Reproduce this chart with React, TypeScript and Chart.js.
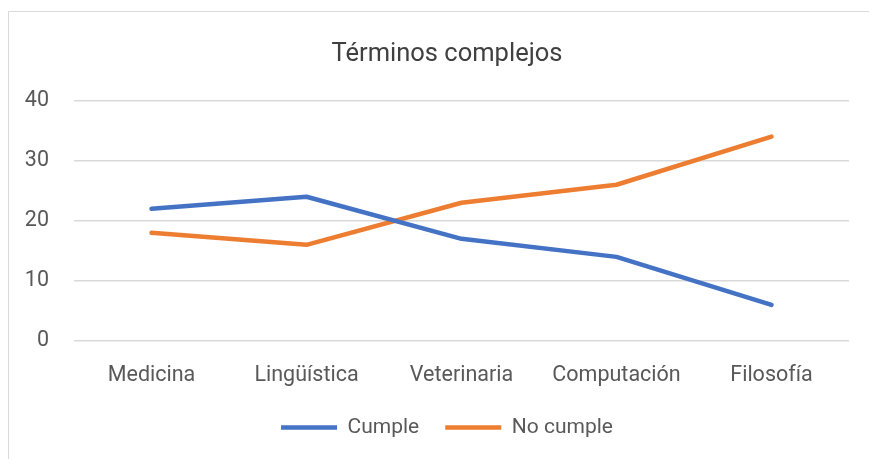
import React, { useEffect, useRef } from "react";
import { Chart, registerables } from "chart.js";

Chart.register(...registerables);

const categories = ["Medicina", "Lingüística", "Veterinaria", "Computación", "Filosofía"];
const cumple = [22, 24, 17, 14, 6];
const noCumple = [18, 16, 23, 26, 34];
const yTicks = [0, 10, 20, 30, 40];

const FONT = "Roboto, 'Liberation Sans', sans-serif";

export default function App() {
  const ref = useRef<HTMLCanvasElement | null>(null);
  useEffect(() => {
    if (!ref.current) return;
    const chart = new Chart(ref.current, {
      type: "line",
      data: {
        labels: categories,
        datasets: [
          {
            label: "Cumple",
            data: cumple,
            borderColor: "#4472C4",
            backgroundColor: "#4472C4",
            borderWidth: 4.5,
            pointRadius: 0,
            pointStyle: "line",
            borderCapStyle: "round",
            borderJoinStyle: "round",
          },
          {
            label: "No cumple",
            data: noCumple,
            borderColor: "#ED7D31",
            backgroundColor: "#ED7D31",
            borderWidth: 4.5,
            pointRadius: 0,
            pointStyle: "line",
            borderCapStyle: "round",
            borderJoinStyle: "round",
          },
        ],
      },
      options: {
        animation: false,
        responsive: false,
        maintainAspectRatio: false,
        layout: { padding: { left: 8, right: 0, top: 0, bottom: 11 } },
        plugins: {
          title: {
            display: true,
            text: "Términos complejos",
            color: "#404040",
            font: { family: FONT, size: 25.5, weight: "normal" },
            padding: { top: 39, bottom: 31 },
          },
          legend: {
            position: "bottom",
            labels: {
              usePointStyle: true,
              pointStyleWidth: 56,
              boxHeight: 4,
              color: "#595959",
              font: { family: FONT, size: 21 },
              padding: 26,
            },
          },
          tooltip: { enabled: false },
        },
        scales: {
          x: {
            offset: true,
            grid: { display: false },
            border: { display: false },
            ticks: { color: "#595959", font: { family: FONT, size: 21.5 }, padding: 14, maxRotation: 0 },
            afterFit: (s: any) => { s.height = 50; },
          },
          y: {
            min: 0,
            max: 40,
            afterBuildTicks: (s: any) => { s.ticks = yTicks.map((v) => ({ value: v })); },
            grid: { color: "#D9D9D9", lineWidth: 1.5, drawTicks: false },
            border: { display: false },
            ticks: { color: "#595959", font: { family: FONT, size: 21.5 }, padding: 25 },
            afterFit: (s: any) => { s.width = 66; },
          },
          spacer: {
            type: "linear",
            position: "right",
            display: true,
            grid: { display: false, drawTicks: false },
            border: { display: false },
            ticks: { display: false },
            afterFit: (s: any) => { s.width = 37; },
          },
        },
      },
    });
    return () => chart.destroy();
  }, []);
  return (
    <div style={{ position: "fixed", left: 0, top: 0, width: 869, height: 459, overflow: "hidden", background: "#fff" }}>
      <div style={{ position: "absolute", left: 8, top: 11, width: 900, height: 500, border: "1.5px solid #D9D9D9", boxSizing: "border-box" }} />
      <canvas ref={ref} width={886} height={459} style={{ position: "absolute", left: 0, top: 0, width: 886, height: 459 }} />
    </div>
  );
}
